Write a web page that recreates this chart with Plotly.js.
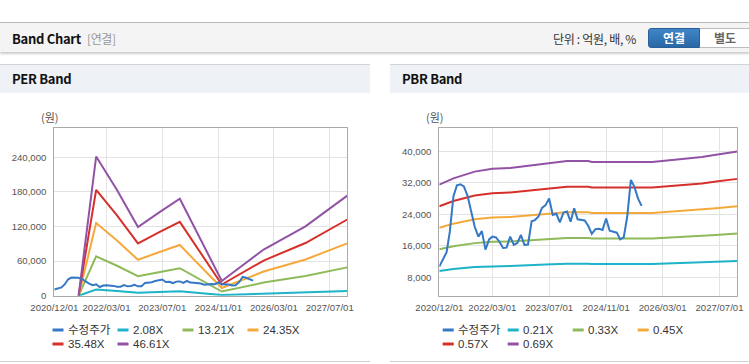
<!DOCTYPE html>
<html><head><meta charset="utf-8">
<script src="https://cdn.plot.ly/plotly-3.0.1.min.js"></script>
<style>
html,body{margin:0;padding:0;background:#fff;width:749px;height:364px;overflow:hidden;font-family:"Liberation Sans","Noto Sans CJK KR",sans-serif;}
#plot{position:absolute;left:0;top:0;width:749px;height:364px;z-index:1;}
.abs{position:absolute;z-index:2;}
#topbar{left:0;top:22px;width:749px;height:29px;background:#f4f4f4;border-top:1px solid #b9b9b9;box-shadow:0 2px 2px rgba(0,0,0,0.20);}
#title{left:12px;top:30px;font-size:13px;font-weight:bold;color:#111;font-family:"Noto Sans CJK KR","Liberation Sans",sans-serif;line-height:18px;letter-spacing:-0.3px;}
#title span{font-weight:normal;color:#999;font-size:12px;margin-left:6px;}
#unit{left:553px;top:31px;font-size:12px;color:#333;font-family:"Noto Sans CJK KR",sans-serif;line-height:16px;letter-spacing:-0.3px;}
#btn1{left:648px;top:28px;width:50px;height:18px;background:linear-gradient(#3f86c8,#2a67a5);border:1px solid #2a5f99;border-radius:3px 0 0 3px;color:#fff;font-weight:bold;font-size:12px;text-align:center;line-height:18px;font-family:"Noto Sans CJK KR",sans-serif;}
#btn2{left:700px;top:28px;width:50px;height:18px;background:#fff;border:1px solid #bbb;border-left:none;color:#666;font-weight:bold;font-size:12px;text-align:center;line-height:18px;font-family:"Noto Sans CJK KR",sans-serif;}
.phead{top:64px;height:28px;background:#eef2f7;border-top:1px solid #d3d3d3;}
.phead div{position:absolute;left:12px;top:5px;font-size:13px;font-weight:bold;color:#111;font-family:"Noto Sans CJK KR","Liberation Sans",sans-serif;line-height:18px;letter-spacing:-0.3px;}
.pbot{top:361px;height:1px;background:#cfcfcf;}
</style></head>
<body>
<div id="plot"></div>
<div class="abs" id="topbar"></div>
<div class="abs" id="title">Band Chart<span>[연결]</span></div>
<div class="abs" id="unit">단위 : 억원, 배, %</div>
<div class="abs" id="btn1">연결</div>
<div class="abs" id="btn2">별도</div>
<div class="abs phead" style="left:0;width:370px;"><div>PER Band</div></div>
<div class="abs phead" style="left:390px;width:359px;"><div>PBR Band</div></div>
<div class="abs pbot" style="left:0;width:370px;"></div>
<div class="abs pbot" style="left:390px;width:359px;"></div>
<script>
// ---------- data ----------
const priceStart = [2020, 12];
const price = [10700,12400,14300,19500,28500,31300,31600,31000,28600,24600,
  20800,18300,19700,15000,17600,18300,18100,17000,15400,15500,
  18300,16200,16700,18700,16200,16300,22200,22500,23400,25600,
  26300,28000,23800,24100,21900,24400,24700,22100,25500,22700,
  22550,22400,21000,19000,20200,20300,20000,22900,19800,19600,
  19300,17600,18100,23400,32700,31000,28000,26100];

const perDates = ['2021-07-01','2021-12-01','2022-06-01','2022-12-01','2023-06-01','2023-12-01','2024-12-01','2025-12-01','2026-12-01','2027-12-01'];
const per208  = [0,10760,8170,5310,6430,7500,1140,3570,5360,8000];
const per1321 = [0,68300,51900,33700,40800,47600,7230,22700,34000,49100];
const per2435 = [0,125900,95600,62200,75200,87800,13300,41800,62700,90600];
const per3548 = [0,183400,139300,90600,109600,127900,19400,60900,91300,132000];
const per4661 = [0,241000,183000,119000,144000,168000,25500,80000,120000,173400];

const pbrDates = ['2020-12-01','2021-04-01','2021-10-01','2022-03-01','2022-08-01','2023-06-01','2023-12-01','2024-06-01','2024-07-01','2025-12-01','2026-04-01','2026-08-01','2027-02-01','2027-06-01','2027-12-01'];
const pbr021 = [9590,10070,10590,10800,10860,11200,11410,11410,11340,11340,11440,11560,11720,11900,12140];
const pbr033 = [15070,15830,16650,16980,17080,17600,17940,17940,17820,17820,17980,18180,18420,18700,19080];
const pbr045 = [20540,21590,22700,23150,23280,24000,24460,24460,24290,24290,24520,24780,25110,25500,26020];
const pbr057 = [26020,27340,28750,29330,29490,30400,30980,30980,30770,30770,31060,31390,31800,32300,32960];
const pbr069 = [31500,33100,34800,35500,35700,36800,37500,37500,37250,37250,37600,38000,38500,39100,39900];

const perNames = ['수정주가','2.08X','13.21X','24.35X','35.48X','46.61X'];
const pbrNames = ['수정주가','0.21X','0.33X','0.45X','0.57X','0.69X'];
const xTickVals = ['2020-12-01','2022-03-01','2023-07-01','2024-11-01','2026-03-01','2027-07-01'];
const xTickText = ['2020/12/01','2022/03/01','2023/07/01','2024/11/01','2026/03/01','2027/07/01'];
const perYTicks = [0,60000,120000,180000,240000];
const pbrYTicks = [8000,16000,24000,32000,40000];
const unitLabel = '(원)';

// ---------- styles ----------
const colors = ['#3478c6','#1db3c8','#8fba5a','#f5a93c','#d6302a','#9252a5'];
const W = 749, H = 364;
const px = x => x / W, py = y => (H - y) / H;

function monthDates(start, n) {
  const out = [];
  for (let i = 0; i < n; i++) {
    const t = (start[0] * 12 + (start[1] - 1)) + i;
    const y = Math.floor(t / 12), m = t % 12 + 1;
    out.push(y + '-' + String(m).padStart(2, '0') + '-01');
  }
  return out;
}
const priceDates = monthDates(priceStart, price.length);

function line(x, y, name, c, xa, ya) {
  return {type:'scatter', mode:'lines', x:x, y:y, name:name, xaxis:xa, yaxis:ya,
          line:{color:c, width:2}, showlegend:false, hoverinfo:'skip'};
}
const perBands = [per208, per1321, per2435, per3548, per4661];
const pbrBands = [pbr021, pbr033, pbr045, pbr057, pbr069];
const traces = [];
perBands.forEach((b, i) => traces.push(line(perDates, b, perNames[i+1], colors[i+1], 'x', 'y')));
traces.push(line(priceDates, price, perNames[0], colors[0], 'x', 'y'));
pbrBands.forEach((b, i) => traces.push(line(pbrDates, b, pbrNames[i+1], colors[i+1], 'x2', 'y2')));
traces.push(line(priceDates, price, pbrNames[0], colors[0], 'x2', 'y2'));

const tickFont = {family:'"Liberation Sans",sans-serif', size:9.6, color:'#555'};
const xBase = {type:'date', range:['2020-12-01','2027-12-01'], tickvals:xTickVals, ticktext:xTickText,
  tickangle:0, showgrid:true, gridcolor:'#e3e3e3', showline:true, mirror:true, linecolor:'#aaaaaa', linewidth:1,
  ticks:'', tickfont:tickFont, zeroline:false, fixedrange:true, ticklabelstandoff:3};
const yBase = {showgrid:true, gridcolor:'#e3e3e3', showline:true, mirror:true, linecolor:'#aaaaaa', linewidth:1,
  ticks:'', tickfont:tickFont, tickformat:',d', zeroline:false, fixedrange:true, ticklabelstandoff:5};

const yDom = [py(295.7), py(128.3)];
const layout = {
  width:W, height:H, margin:{l:0,r:0,t:0,b:0},
  paper_bgcolor:'rgba(0,0,0,0)', plot_bgcolor:'#ffffff', showlegend:false,
  xaxis:Object.assign({}, xBase, {domain:[px(54.3), px(347.3)], anchor:'y'}),
  yaxis:Object.assign({}, yBase, {domain:yDom, range:[0,290000], tickvals:perYTicks, anchor:'x'}),
  xaxis2:Object.assign({}, xBase, {domain:[px(439.3), px(737.3)], anchor:'y2'}),
  yaxis2:Object.assign({}, yBase, {domain:yDom, range:[3300,45800], tickvals:pbrYTicks, anchor:'x2'}),
  annotations:[], shapes:[]
};
const lblFont = {family:'"Noto Sans CJK KR",sans-serif', size:11, color:'#555'};
layout.annotations.push({xref:'paper', yref:'paper', x:px(49.5), y:py(117), text:unitLabel, showarrow:false, font:lblFont, xanchor:'center', yanchor:'middle'});
layout.annotations.push({xref:'paper', yref:'paper', x:px(435), y:py(117), text:unitLabel, showarrow:false, font:lblFont, xanchor:'center', yanchor:'middle'});

function legend(names, x0) {
  names.forEach((n, i) => {
    const col = i % 4, row = Math.floor(i / 4);
    const sx = x0 + col * 65, sy = 330 + row * 14;
    layout.shapes.push({type:'line', xref:'paper', yref:'paper', x0:px(sx), x1:px(sx + 11), y0:py(sy), y1:py(sy),
      line:{color:colors[i], width:3}});
    layout.annotations.push({xref:'paper', yref:'paper', x:px(sx + 13), y:py(sy), text:n, showarrow:false,
      xanchor:'left', yanchor:'middle',
      font:{family:'"Liberation Sans","Noto Sans CJK KR",sans-serif', size:11.5, color:'#333'}});
  });
}
legend(perNames, 52.5);
legend(pbrNames, 442.7);

Plotly.newPlot('plot', traces, layout, {staticPlot:true, displayModeBar:false});
</script>
</body></html>
